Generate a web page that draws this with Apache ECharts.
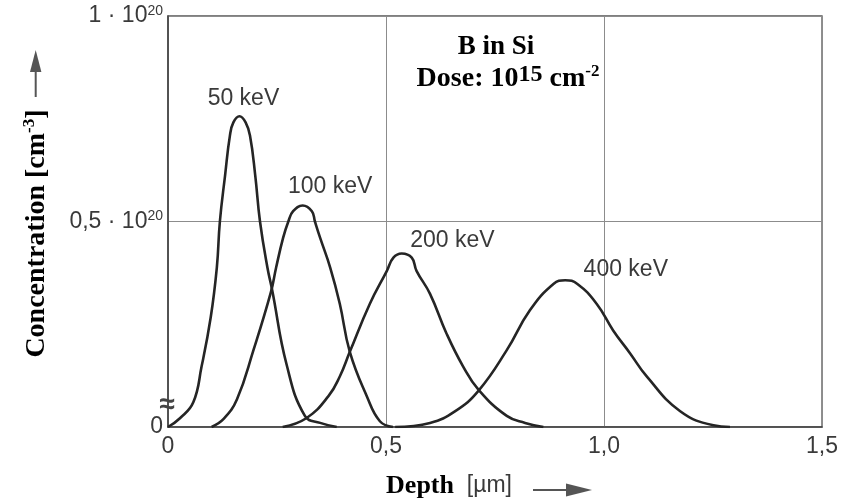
<!DOCTYPE html>
<html>
<head>
<meta charset="utf-8">
<script src="https://cdn.jsdelivr.net/npm/echarts@6/dist/echarts.min.js"></script>
<style>
html,body{margin:0;padding:0;background:#fff;}
#chart{width:844px;height:504px;}
</style>
</head>
<body>
<div id="chart"></div>
<script>
// ---- data (depth in µm, concentration in units of 1e20 cm^-3) ----
const seriesNames = ['50 keV', '100 keV', '200 keV', '400 keV'];

const depth50 = [0, 0.028, 0.058, 0.077, 0.098, 0.112, 0.119, 0.131, 0.142, 0.150, 0.164, 0.178, 0.188, 0.200, 0.211, 0.228, 0.239, 0.272, 0.314, 0.349, 0.387];
const conc50  = [0, 0.022, 0.060, 0.147, 0.267, 0.388, 0.500, 0.613, 0.709, 0.741, 0.756, 0.741, 0.709, 0.613, 0.500, 0.388, 0.333, 0.152, 0.027, 0.010, 0];

const depth100 = [0.100, 0.127, 0.158, 0.196, 0.236, 0.248, 0.264, 0.276, 0.287, 0.309, 0.330, 0.337, 0.349, 0.372, 0.394, 0.417, 0.456, 0.486, 0.516];
const conc100  = [0, 0.019, 0.067, 0.187, 0.328, 0.388, 0.460, 0.500, 0.525, 0.539, 0.525, 0.500, 0.460, 0.388, 0.300, 0.183, 0.075, 0.014, 0];

const depth200 = [0.263, 0.318, 0.368, 0.394, 0.417, 0.463, 0.502, 0.517, 0.536, 0.559, 0.570, 0.601, 0.639, 0.677, 0.712, 0.777, 0.819, 0.861];
const conc200  = [0, 0.022, 0.075, 0.123, 0.183, 0.300, 0.380, 0.412, 0.422, 0.412, 0.380, 0.324, 0.227, 0.147, 0.091, 0.027, 0.010, 0];

const depth400 = [0.521, 0.601, 0.658, 0.712, 0.777, 0.830, 0.884, 0.911, 0.939, 0.983, 1.021, 1.060, 1.098, 1.174, 1.251, 1.289];
const conc400  = [0, 0.010, 0.038, 0.088, 0.187, 0.284, 0.348, 0.357, 0.348, 0.300, 0.235, 0.179, 0.123, 0.039, 0.004, 0];

const xTicks = [0, 0.5, 1.0, 1.5];
const xTickLabels = ['0', '0,5', '1,0', '1,5'];
const yTickMantissa = { '0.5': '0,5', '1': '1' };
const yTickExponent = '20';

// ---- styles ----
const SANS = "'Liberation Sans', Arial, sans-serif";
const SERIF = "'Liberation Serif', 'Times New Roman', serif";
const INK = '#252525';
const GREY = '#3a3a3a';

const depths = [depth50, depth100, depth200, depth400];
const concs = [conc50, conc100, conc200, conc400];
// label anchor points (data coordinates) for each curve name
const labelAnchors = [[0.173, 0.80], [0.372, 0.585], [0.6525, 0.454], [1.050, 0.382]];

const series = seriesNames.map((name, i) => ({
  name: name,
  type: 'line',
  data: depths[i].map((d, k) => [d, concs[i][k]]),
  smooth: 0.45,
  showSymbol: false,
  symbol: 'none',
  lineStyle: { color: INK, width: 2.6 },
  z: 5,
  markPoint: {
    symbol: 'circle',
    symbolSize: 0,
    silent: true,
    label: {
      show: true,
      position: 'inside',
      formatter: name,
      fontFamily: SANS,
      fontSize: 23,
      color: GREY
    },
    data: [{ coord: labelAnchors[i], name: name }]
  }
}));

const chart = echarts.init(document.getElementById('chart'), null, { renderer: 'canvas' });

chart.setOption({
  animation: false,
  backgroundColor: '#ffffff',
  grid: {
    left: 168, right: 22, top: 16, bottom: 73,
    show: true, borderColor: '#555', borderWidth: 1.3
  },
  xAxis: {
    type: 'value',
    min: 0, max: 1.5, interval: 0.5,
    name: '{b|Depth}{n|  [µm]}',
    nameLocation: 'middle',
    nameGap: 44,
    nameTextStyle: {
      padding: [0, 92, 0, 0],
      rich: {
        b: { fontFamily: SERIF, fontWeight: 'bold', fontSize: 26, lineHeight: 30, color: '#000' },
        n: { fontFamily: SANS, fontSize: 23, lineHeight: 30, color: GREY }
      }
    },
    axisLine: { show: true, lineStyle: { color: '#444', width: 1.6 } },
    axisTick: { show: false },
    splitLine: { show: true, lineStyle: { color: '#8c8c8c', width: 1 } },
    axisLabel: {
      margin: 8,
      fontFamily: SANS, fontSize: 23, color: GREY,
      formatter: v => xTickLabels[Math.round(v * 2)]
    }
  },
  yAxis: {
    type: 'value',
    min: 0, max: 1, interval: 0.5,
    name: '{b|Concentration [cm}{s|-3}{b|]}',
    nameLocation: 'middle',
    nameRotate: 90,
    nameGap: 115,
    nameTextStyle: {
      padding: [0, 24, 0, 0],
      rich: {
        b: { fontFamily: SERIF, fontWeight: 'bold', fontSize: 28, lineHeight: 32, color: '#000' },
        s: { fontFamily: SERIF, fontWeight: 'bold', fontSize: 17, lineHeight: 17, verticalAlign: 'top', color: '#000' }
      }
    },
    axisLine: { show: true, lineStyle: { color: '#444', width: 1.6 } },
    axisTick: { show: false },
    splitLine: { show: true, lineStyle: { color: '#8c8c8c', width: 1 } },
    axisLabel: {
      margin: 5,
      fontFamily: SANS, fontSize: 23, color: GREY,
      formatter: v => {
        if (v === 0) return '0';
        const m = yTickMantissa[String(v)];
        return '{n|' + m + ' · 10}{s|' + yTickExponent + '}';
      },
      rich: {
        n: { fontFamily: SANS, fontSize: 23, lineHeight: 24, color: GREY },
        s: { fontFamily: SANS, fontSize: 14, lineHeight: 14, verticalAlign: 'top', color: GREY }
      }
    }
  },
  graphic: [
    // title lines
    {
      type: 'text', x: 496, y: 47.5, z: 10,
      style: { text: 'B in Si', align: 'center', verticalAlign: 'middle',
               font: 'bold 27px ' + SERIF, fill: '#000' }
    },
    {
      type: 'text', x: 508, y: 63, z: 10,
      style: {
        text: '{a|Dose: 10}{s|15}{a| cm}{t|-2}',
        align: 'center', verticalAlign: 'top',
        rich: {
          a: { fontFamily: SERIF, fontWeight: 'bold', fontSize: 28, lineHeight: 30, verticalAlign: 'bottom', fill: '#000' },
          s: { fontFamily: SERIF, fontWeight: 'bold', fontSize: 24, lineHeight: 24, verticalAlign: 'top', fill: '#000' },
          t: { fontFamily: SERIF, fontWeight: 'bold', fontSize: 17, lineHeight: 17, verticalAlign: 'top', fill: '#000' }
        }
      }
    },
    // y-axis arrow
    { type: 'line', shape: { x1: 35.7, y1: 97, x2: 35.7, y2: 68 }, style: { stroke: '#555', lineWidth: 2 } },
    { type: 'polygon', shape: { points: [[35.7, 50], [30, 72], [41.4, 72]] }, style: { fill: '#555' } },
    // x-axis arrow
    { type: 'line', shape: { x1: 533, y1: 490, x2: 570, y2: 490 }, style: { stroke: '#555', lineWidth: 2 } },
    { type: 'polygon', shape: { points: [[592, 490], [566, 483.5], [566, 496.5]] }, style: { fill: '#555' } },
    // axis break mark
    {
      type: 'text', x: 167, y: 405, z: 10,
      style: { text: '≈', align: 'center', verticalAlign: 'middle', font: 'bold 28px ' + SANS, fill: '#444' }
    }
  ],
  series: series
});
</script>
</body>
</html>
